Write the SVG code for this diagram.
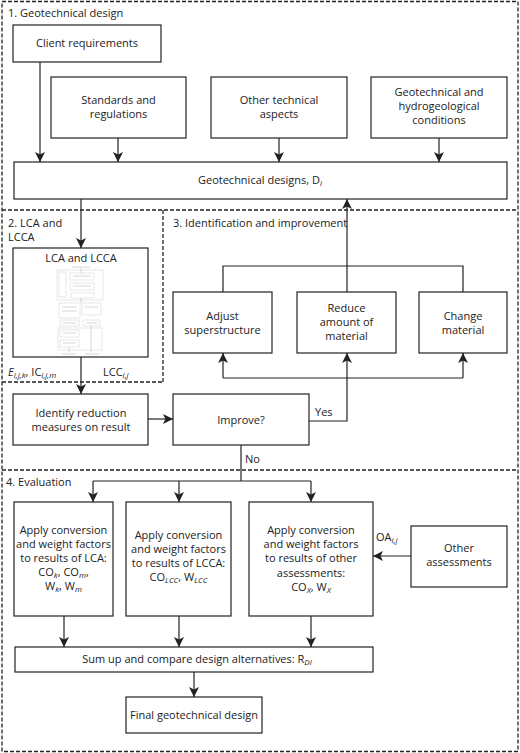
<svg xmlns="http://www.w3.org/2000/svg" width="520" height="753" viewBox="0 0 520 753">
<style>
.bx{fill:#fff;stroke:#222;stroke-width:1.2}
.t{font-family:"Open Sans","DejaVu Sans",sans-serif;font-size:11px;fill:#222}
.c{text-anchor:middle}
.sub{font-size:8px;font-style:italic}
.dash{fill:none;stroke:#222;stroke-width:1.3;stroke-dasharray:4 2}
.ln{fill:none;stroke:#222;stroke-width:1.2}
.th{fill:none;stroke:#c4c4c4;stroke-width:0.4}
.thl{fill:none;stroke:#9a9a9a;stroke-width:0.4}
</style>
<defs>
<marker id="ah" markerWidth="10" markerHeight="10" refX="10" refY="5" orient="auto" markerUnits="userSpaceOnUse">
<path d="M0,0 L10,5 L0,10 L2.5,5 z" fill="#222"/>
</marker>
</defs>
<rect width="520" height="753" fill="#fff"/>
<g id="sections">
<rect class="dash" x="2" y="1.5" width="516" height="750"/>
<line class="dash" x1="2" y1="210" x2="518" y2="210"/>
<line class="dash" x1="163" y1="210" x2="163" y2="382"/>
<line class="dash" x1="2" y1="382" x2="163" y2="382"/>
<line class="dash" x1="2" y1="470" x2="518" y2="470"/>
<text class="t" x="8" y="17">1. Geotechnical design</text>
<text class="t" x="8" y="227">2. LCA and</text>
<text class="t" x="8" y="241">LCCA</text>
<text class="t" x="173" y="227">3. Identification and improvement</text>
<text class="t" x="6" y="486">4. Evaluation</text>
</g>
<g id="connectors">
<path class="ln" d="M40,62 V162" marker-end="url(#ah)"/>
<path class="ln" d="M118,138 V162" marker-end="url(#ah)"/>
<path class="ln" d="M279,138 V162" marker-end="url(#ah)"/>
<path class="ln" d="M439,138 V162" marker-end="url(#ah)"/>
<path class="ln" d="M81,199 V248" marker-end="url(#ah)"/>
<path class="ln" d="M81,357 V394" marker-end="url(#ah)"/>
<path class="ln" d="M148,419 H173" marker-end="url(#ah)"/>
<path class="ln" d="M309,421 H347 V353" marker-end="url(#ah)"/>
<path class="ln" d="M223,378 H463"/>
<path class="ln" d="M223,378 V353" marker-end="url(#ah)"/>
<path class="ln" d="M463,378 V353" marker-end="url(#ah)"/>
<path class="ln" d="M223,292 V266 H463 V292"/>
<path class="ln" d="M347,292 V199" marker-end="url(#ah)"/>
<path class="ln" d="M241,445 V481"/>
<path class="ln" d="M93,481 H311"/>
<path class="ln" d="M93,481 V502" marker-end="url(#ah)"/>
<path class="ln" d="M179,481 V502" marker-end="url(#ah)"/>
<path class="ln" d="M311,481 V502" marker-end="url(#ah)"/>
<path class="ln" d="M411,556 H373" marker-end="url(#ah)"/>
<path class="ln" d="M64,616 V647" marker-end="url(#ah)"/>
<path class="ln" d="M179,616 V647" marker-end="url(#ah)"/>
<path class="ln" d="M311,616 V647" marker-end="url(#ah)"/>
<path class="ln" d="M194,672 V697" marker-end="url(#ah)"/>
<text class="t" x="315" y="416">Yes</text>
<text class="t" x="245" y="463">No</text>
<text class="t" x="8" y="376"><tspan font-style="italic">E</tspan><tspan class="sub" dy="2">i,j,k</tspan><tspan dy="-2">, IC</tspan><tspan class="sub" dy="2">i,j,m</tspan></text>
<text class="t" x="103" y="376">LCC<tspan class="sub" dy="2">i,j</tspan></text>
<text class="t" x="376" y="541">OA<tspan class="sub" dy="2">i,j</tspan></text>
</g>
<g id="client">
<rect class="bx" x="13" y="25" width="148" height="37"/>
<text class="t c" x="87" y="47">Client requirements</text>
</g>
<g id="standards">
<rect class="bx" x="51" y="77" width="135" height="61"/>
<text class="t c" x="118.5" y="104">Standards and</text>
<text class="t c" x="118.5" y="118">regulations</text>
</g>
<g id="other-technical">
<rect class="bx" x="211" y="77" width="136" height="61"/>
<text class="t c" x="279" y="104">Other technical</text>
<text class="t c" x="279" y="118">aspects</text>
</g>
<g id="geo-conditions">
<rect class="bx" x="371" y="77" width="136" height="61"/>
<text class="t c" x="439" y="96">Geotechnical and</text>
<text class="t c" x="439" y="110">hydrogeological</text>
<text class="t c" x="439" y="124">conditions</text>
</g>
<g id="geo-designs">
<rect class="bx" x="14" y="162" width="493" height="37"/>
<text class="t c" x="260" y="184">Geotechnical designs, D<tspan class="sub" dy="2">i</tspan></text>
</g>
<g id="lca">
<rect class="bx" x="13" y="248" width="135" height="109"/>
<text class="t c" x="81" y="262">LCA and LCCA</text>
<g id="thumbnail">
<line class="thl" x1="72" y1="267" x2="90" y2="267"/>
<line class="thl" x1="81" y1="268" x2="81" y2="273"/>
<rect class="th" x="57" y="270" width="46" height="30"/>
<rect class="th" x="59" y="272" width="7" height="25"/>
<rect class="th" x="70" y="273" width="24" height="7"/>
<line class="thl" x1="73" y1="276" x2="91" y2="276"/>
<rect class="th" x="70" y="283" width="24" height="7"/>
<line class="thl" x1="73" y1="286" x2="91" y2="286"/>
<rect class="th" x="71" y="293" width="23" height="5"/>
<line class="thl" x1="81" y1="298" x2="81" y2="303"/>
<rect class="th" x="59" y="303" width="21" height="15"/>
<line class="thl" x1="62" y1="307" x2="77" y2="307"/>
<line class="thl" x1="62" y1="311" x2="77" y2="311"/>
<rect class="th" x="82" y="303" width="19" height="12"/>
<line class="thl" x1="85" y1="307" x2="98" y2="307"/>
<rect class="th" x="60" y="320" width="19" height="6"/>
<line class="thl" x1="63" y1="323" x2="76" y2="323"/>
<rect class="th" x="83" y="320" width="17" height="6"/>
<line class="thl" x1="86" y1="323" x2="97" y2="323"/>
<rect class="th" x="58" y="328" width="44" height="22"/>
<rect class="th" x="60" y="330" width="19" height="7"/>
<line class="thl" x1="63" y1="333" x2="76" y2="333"/>
<rect class="th" x="60" y="340" width="19" height="7"/>
<line class="thl" x1="63" y1="343" x2="76" y2="343"/>
<line class="thl" x1="69" y1="347" x2="69" y2="352"/>
<line class="thl" x1="91" y1="326" x2="91" y2="352"/>
<line class="thl" x1="62" y1="354" x2="76" y2="354"/>
<line class="thl" x1="85" y1="354" x2="99" y2="354"/>
</g>
</g>
<g id="identify">
<rect class="bx" x="13" y="394" width="135" height="51"/>
<text class="t c" x="81" y="417">Identify reduction</text>
<text class="t c" x="81" y="431">measures on result</text>
</g>
<g id="improve">
<rect class="bx" x="173" y="394" width="136" height="51"/>
<text class="t c" x="241" y="424">Improve?</text>
</g>
<g id="adjust">
<rect class="bx" x="173" y="292" width="99" height="61"/>
<text class="t c" x="222.5" y="320">Adjust</text>
<text class="t c" x="222.5" y="334">superstructure</text>
</g>
<g id="reduce">
<rect class="bx" x="297" y="292" width="99" height="61"/>
<text class="t c" x="346.5" y="312">Reduce</text>
<text class="t c" x="346.5" y="326">amount of</text>
<text class="t c" x="346.5" y="340">material</text>
</g>
<g id="change">
<rect class="bx" x="419" y="292" width="88" height="61"/>
<text class="t c" x="463" y="320">Change</text>
<text class="t c" x="463" y="334">material</text>
</g>
<g id="apply-lca">
<rect class="bx" x="14" y="502" width="99" height="114"/>
<text class="t c" x="63.5" y="534">Apply conversion</text>
<text class="t c" x="63.5" y="548">and weight factors</text>
<text class="t c" x="63.5" y="562">to results of LCA:</text>
<text class="t c" x="63.5" y="576">CO<tspan class="sub" dy="2">k</tspan><tspan dy="-2">, CO</tspan><tspan class="sub" dy="2">m</tspan><tspan dy="-2">,</tspan></text>
<text class="t c" x="63.5" y="590">W<tspan class="sub" dy="2">k</tspan><tspan dy="-2">, W</tspan><tspan class="sub" dy="2">m</tspan></text>
</g>
<g id="apply-lcca">
<rect class="bx" x="126" y="502" width="105" height="114"/>
<text class="t c" x="178.5" y="539">Apply conversion</text>
<text class="t c" x="178.5" y="553">and weight factors</text>
<text class="t c" x="178.5" y="567">to results of LCCA:</text>
<text class="t c" x="178.5" y="581">CO<tspan class="sub" dy="2">LCC</tspan><tspan dy="-2">, W</tspan><tspan class="sub" dy="2">LCC</tspan></text>
</g>
<g id="apply-other">
<rect class="bx" x="249" y="502" width="124" height="114"/>
<text class="t c" x="311" y="534">Apply conversion</text>
<text class="t c" x="311" y="548">and weight factors</text>
<text class="t c" x="311" y="562">to results of other</text>
<text class="t c" x="311" y="577">assessments:</text>
<text class="t c" x="311" y="591">CO<tspan class="sub" dy="2">X</tspan><tspan dy="-2">, W</tspan><tspan class="sub" dy="2">X</tspan></text>
</g>
<g id="other-assessments">
<rect class="bx" x="411" y="526" width="96" height="61"/>
<text class="t c" x="459" y="552">Other</text>
<text class="t c" x="459" y="566">assessments</text>
</g>
<g id="sum-up">
<rect class="bx" x="15" y="647" width="358" height="25"/>
<text class="t c" x="197" y="663">Sum up and compare design alternatives: R<tspan class="sub" dy="2">Di</tspan></text>
</g>
<g id="final">
<rect class="bx" x="126" y="697" width="136" height="36"/>
<text class="t c" x="194" y="719">Final geotechnical design</text>
</g>
</svg>
